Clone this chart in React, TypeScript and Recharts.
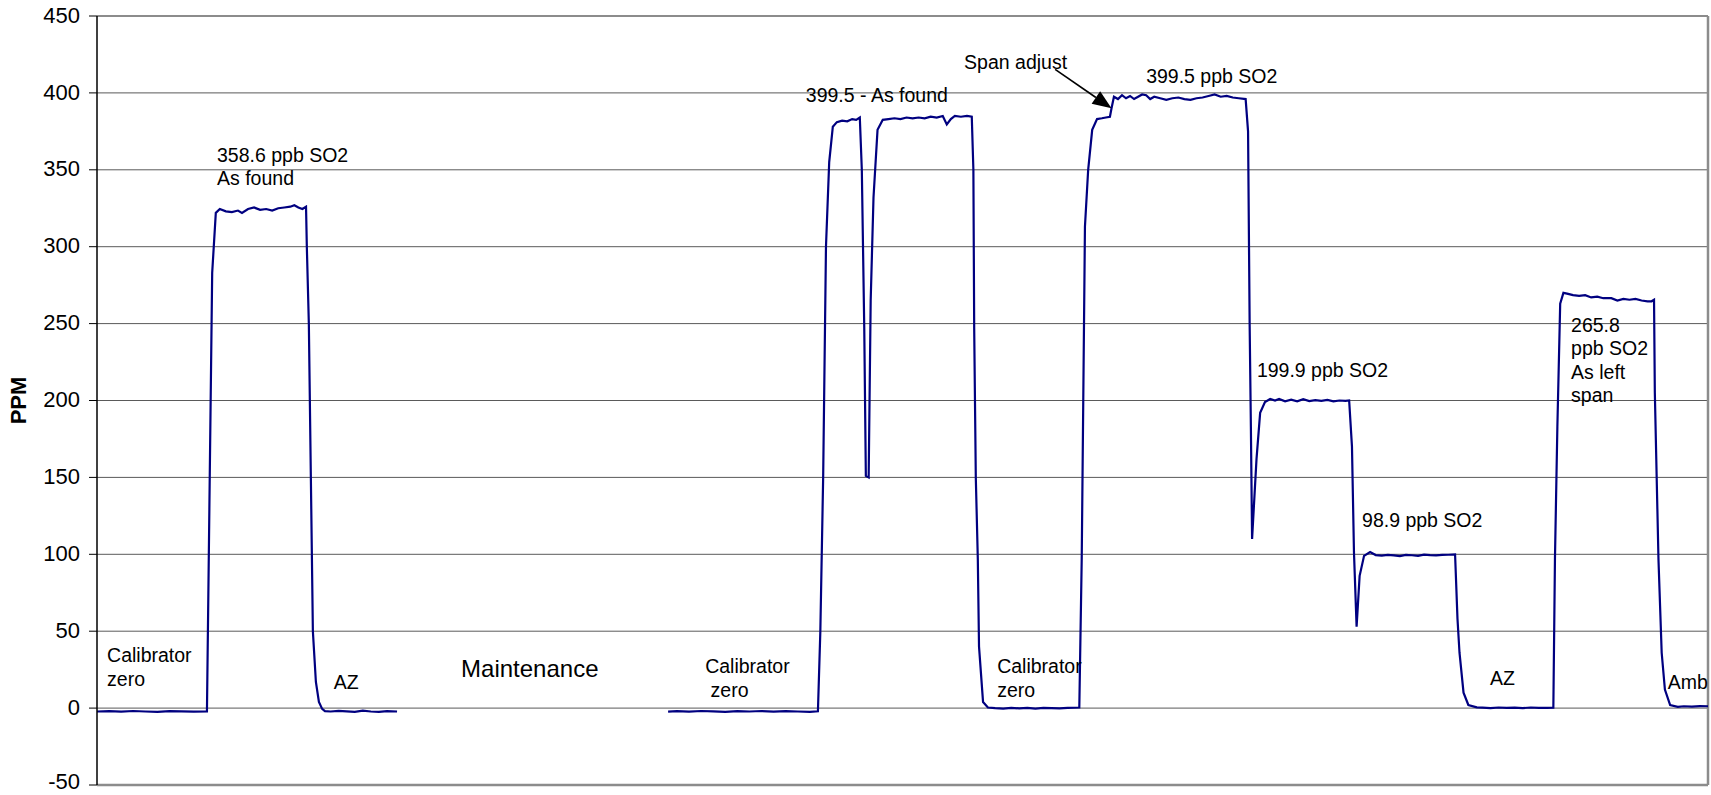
import React from 'react';
import { LineChart, Line, XAxis, YAxis, CartesianGrid, ReferenceDot, ReferenceLine } from 'recharts';

const FONT = '"Liberation Sans", Arial, Helvetica, sans-serif';
const NAVY = '#000080';

// analyser trace, [minute, ppm] per phase
const calibratorZeroA = [
  [0, -2.2], [3, -2.0], [6, -2.3], [9, -1.9], [12, -2.2], [15, -2.4], [18, -2.0], [21, -2.1], [24, -2.3], [27.3, -2.1],
];
const asFoundSpanA = [
  [28.6, 283], [29.5, 322], [30.5, 324.5], [32, 323], [33.5, 322.5], [35, 323.5], [36, 322], [37.5, 324.5],
  [39, 325.5], [40.5, 324], [42, 324.5], [43.5, 323.5], [45, 325], [46.5, 325.5], [48, 326], [49, 327],
  [50, 325.5], [51, 324.5], [51.9, 326],
];
const autoZeroA = [
  [52.1, 300], [52.6, 250], [53.1, 150], [53.6, 50], [54.35, 17], [55.1, 4], [55.9, -0.5], [56.6, -2],
  [58, -2.2], [60, -1.8], [62, -2.1], [64, -2.4], [66, -1.7], [68, -2.2], [70, -2.4], [72, -2.0], [74.5, -2.2],
];
const maintenance = [[108, null]];
const calibratorZeroB = [
  [141.8, -2.3], [144, -2.0], [147, -2.3], [150, -1.9], [153, -2.1], [156, -2.4], [159, -2.0], [162, -2.2],
  [165, -1.9], [168, -2.3], [171, -2.0], [174, -2.2], [177, -2.4], [179, -2.1],
];
const asFoundSpanB = [
  [179.6, 50], [180.3, 150], [181.0, 300], [181.8, 355], [182.7, 378], [183.7, 381], [185, 382], [186.3, 381.5],
  [187.5, 383], [188.5, 382.5], [189.4, 384], [189.9, 350], [190.5, 248], [190.9, 151], [191.6, 150],
  [192.1, 265], [192.8, 332], [193.8, 376], [195.1, 382.5], [196.5, 383], [198, 383.5], [199.5, 383],
  [201, 384], [202.5, 383.5], [204, 384], [205.5, 383.5], [207, 384.5], [208.5, 384], [210, 385], [211, 379.5],
  [212, 383], [213, 385], [214.5, 384.5], [216, 385], [217.2, 384.5],
];
const calibratorZeroC = [
  [217.6, 350], [217.8, 247], [218.2, 150], [218.7, 97], [219.0, 40], [220.0, 4], [221.2, 0.4], [223, 0],
  [225, -0.3], [227, 0.2], [229, -0.2], [231, 0.1], [233, -0.3], [235, 0.2], [237, 0], [239, -0.2],
  [241, 0.1], [243.9, 0.4],
];
const spanAdjust = [
  [244.5, 97], [245.3, 313], [246.1, 350], [247.1, 376], [248.3, 383], [249.5, 383.5], [250.5, 384],
  [251.5, 384.5], [251.9, 390], [252.5, 397.5], [253.5, 396], [254.5, 398.5], [255.5, 396.5], [256.5, 398],
  [257.5, 396], [258.5, 397.5], [259.5, 399], [260.5, 398.5], [261.5, 396], [262.5, 397.5], [264, 396.5],
  [265.5, 395.5], [267, 396.5], [268.5, 397], [270, 396], [271.5, 395.5], [273, 396.5], [274.5, 397],
  [276, 398], [277.5, 399], [279, 397.5], [280.5, 398], [282, 397], [283.5, 396.5], [285.2, 396],
];
const point200 = [
  [285.8, 375], [286.2, 248], [286.5, 183], [286.8, 110], [287.9, 162], [288.8, 192], [290, 199], [291.3, 201],
  [292.5, 200], [293.5, 201], [295, 199.5], [296.5, 200.5], [298, 199.5], [299.5, 200.8], [301, 199.6],
  [302.5, 200.2], [304, 199.8], [305.5, 200.4], [307, 199.5], [308.5, 200], [310, 199.7], [310.9, 200],
];
const point100 = [
  [311.6, 170], [312.1, 101], [312.75, 53], [313.5, 86], [314.6, 99], [316.1, 101.5], [317.5, 99.5],
  [319, 99.2], [320.5, 99.6], [322, 99.3], [323.5, 98.8], [325, 99.6], [326.5, 99.4], [328, 99],
  [329.5, 99.8], [331, 99.5], [332.5, 99.3], [334, 99.6], [335.5, 99.7], [337.2, 100],
];
const autoZeroB = [
  [337.8, 58], [338.3, 36], [339.3, 10], [340.5, 2], [342.6, 0.5], [344, 0.3], [346, 0], [348, 0.4],
  [350, 0.1], [352, 0.3], [354, 0], [356, 0.4], [358, 0.2], [360, 0.1], [361.6, 0.3],
];
const asLeftSpan = [
  [362.0, 97], [362.6, 183], [363.3, 263], [364.1, 270], [365, 269.5], [366.5, 268.5], [368, 268],
  [369.5, 268.5], [371, 267], [372.5, 267.5], [374, 266.5], [376, 266.5], [377.5, 265], [379, 266],
  [380.5, 265.5], [382, 266], [383.5, 265], [385, 264.5], [386.0, 264.5], [386.6, 265.5],
];
const ambient = [
  [386.8, 205], [387.7, 97], [388.5, 36], [389.3, 12], [390.6, 2], [392.5, 0.8], [394, 1.2], [396, 1],
  [398, 1.3], [400, 1.2],
];

const yTicks = [-50, 0, 50, 100, 150, 200, 250, 300, 350, 400, 450];

// text notes anchored at [minute, ppm] of their first baseline
const notes = [
  { t: 29.8, v: 355.2, lines: ['358.6 ppb SO2', 'As found'] },
  { t: 2.5, v: 29.9, lines: ['Calibrator', 'zero'] },
  { t: 58.8, v: 12.3, lines: ['AZ'] },
  { t: 90.4, v: 20.1, lines: ['Maintenance'], size: 24 },
  { t: 151, v: 22.7, lines: ['Calibrator', ' zero'] },
  { t: 223.5, v: 22.7, lines: ['Calibrator', 'zero'] },
  { t: 176, v: 394.2, lines: ['399.5 - As found'] },
  { t: 215.3, v: 415.6, lines: ['Span adjust'] },
  { t: 260.5, v: 406.5, lines: ['399.5 ppb SO2'] },
  { t: 288, v: 215, lines: ['199.9 ppb SO2'] },
  { t: 314.1, v: 117.5, lines: ['98.9 ppb SO2'] },
  { t: 345.9, v: 15, lines: ['AZ'] },
  { t: 366, v: 244.8, lines: ['265.8', 'ppb SO2', 'As left', 'span'] },
  { t: 390, v: 12.3, lines: ['Amb'] },
];

const arrowFrom = { t: 237.9, v: 415.3 };
const arrowTo = { t: 251.9, v: 390 };

const data = [
  calibratorZeroA, asFoundSpanA, autoZeroA, maintenance, calibratorZeroB, asFoundSpanB,
  calibratorZeroC, spanAdjust, point200, point100, autoZeroB, asLeftSpan, ambient,
].flat().map(([t, ppm]) => ({ t, ppm }));

const Note = (props: any) => {
  const { cx, cy, lines, size = 19.5 } = props;
  return (
    <text x={cx} y={cy} fontFamily={FONT} fontSize={size} fill="#000" style={{ whiteSpace: 'pre' }}>
      {lines.map((l: string, i: number) => (
        <tspan key={i} x={cx} dy={i === 0 ? 0 : 23.5}>{l}</tspan>
      ))}
    </text>
  );
};

const Arrow = (props: any) => {
  const { x1, y1, x2, y2 } = props;
  const ang = Math.atan2(y2 - y1, x2 - x1);
  const len = 19;
  const half = 7.5;
  const bx = x2 - len * Math.cos(ang);
  const by = y2 - len * Math.sin(ang);
  const px = -Math.sin(ang) * half;
  const py = Math.cos(ang) * half;
  return (
    <g>
      <line x1={x1} y1={y1} x2={bx} y2={by} stroke="#000" strokeWidth={1.6} />
      <polygon points={`${x2},${y2} ${bx + px},${by + py} ${bx - px},${by - py}`} fill="#000" />
    </g>
  );
};

const YTick = (props: any) => {
  const { x, y, payload } = props;
  // lowest label sits on the page edge, nudge it up so it stays whole
  const lift = payload.value === yTicks[0] ? 3 : 0;
  return (
    <text x={x} y={y - lift} dy="0.3em" textAnchor="end" fontFamily={FONT} fontSize={22} fill="#000">
      {payload.value}
    </text>
  );
};

const PpmLabel = (props: any) => {
  const { viewBox } = props;
  const x = viewBox.x + 18;
  const y = viewBox.y + viewBox.height / 2;
  return (
    <text x={x} y={y} transform={`rotate(-90 ${x} ${y})`} textAnchor="middle" dominantBaseline="central"
      fontFamily={FONT} fontWeight="bold" fontSize={22} fill="#000">
      PPM
    </text>
  );
};

export default function App() {
  return (
    <div style={{ position: 'absolute', left: 0, top: 0, background: '#fff' }}>
      <LineChart width={1711} height={795} data={data} margin={{ top: 16, right: 3, bottom: 0, left: 0 }}>
        <CartesianGrid vertical={false} stroke="#5a5a5a" strokeWidth={1} />
        <XAxis dataKey="t" type="number" domain={[0, 400]} tick={false} tickLine={false} height={10}
          axisLine={{ stroke: '#8c8c8c', strokeWidth: 2.5 }} />
        <YAxis type="number" domain={[-50, 450]} ticks={yTicks} interval={0} width={97} tickSize={8} tickMargin={9}
          axisLine={{ stroke: '#000', strokeWidth: 1.5 }} tickLine={{ stroke: '#000' }}
          tick={<YTick />}
          label={<PpmLabel />} />
        <ReferenceLine y={450} stroke="#8c8c8c" strokeWidth={2} />
        <ReferenceLine x={400} stroke="#8c8c8c" strokeWidth={2.5} />
        <Line type="linear" dataKey="ppm" stroke={NAVY} strokeWidth={2.2} dot={false} activeDot={false}
          connectNulls={false} isAnimationActive={false} />
        {notes.map((n, i) => (
          <ReferenceDot key={i} x={n.t} y={n.v} r={0}
            shape={(p: any) => <Note {...p} lines={n.lines} size={n.size} />} />
        ))}
        <ReferenceLine segment={[{ x: arrowFrom.t, y: arrowFrom.v }, { x: arrowTo.t, y: arrowTo.v }]}
          shape={(p: any) => <Arrow {...p} />} />
      </LineChart>
    </div>
  );
}
